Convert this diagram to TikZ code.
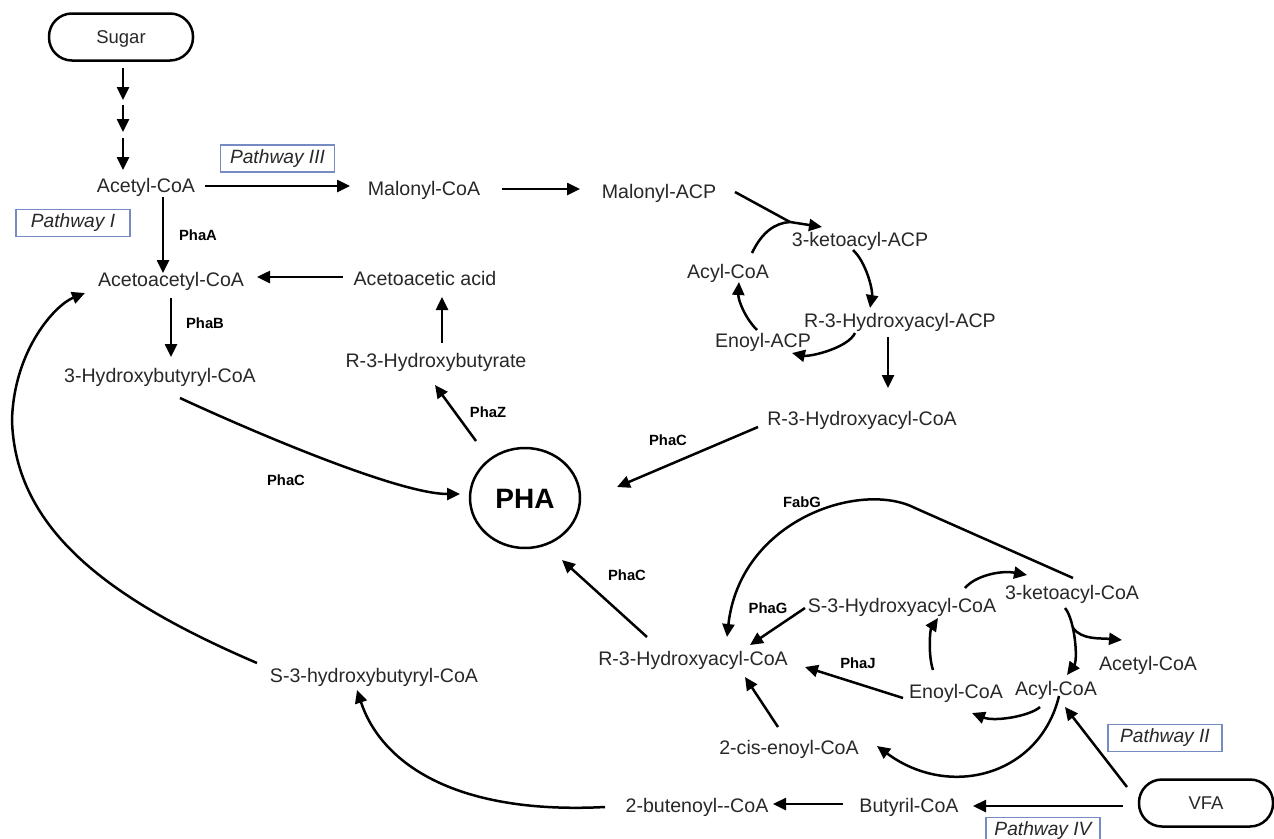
\documentclass[tikz,border=0pt]{standalone}
\usepackage{fontspec}
\setmainfont{Liberation Sans}
\usetikzlibrary{arrows.meta,shapes.geometric}
\definecolor{pwblue}{RGB}{118,138,196}
\definecolor{ink}{RGB}{40,40,40}
\begin{document}
\begin{tikzpicture}[x=1pt,y=-1pt,
 txt/.style={font=\fontsize{19.6}{22}\selectfont, text=ink, inner sep=0pt, text height=14pt, text depth=0pt},
 enz/.style={font=\bfseries\fontsize{14.8}{17}\selectfont, text=black, inner sep=0pt, text height=10.6pt, text depth=0pt},
 pw/.style={draw=pwblue, line width=1.3pt, font=\itshape\fontsize{19.2}{22}\selectfont, text=ink, minimum width=114pt, minimum height=27pt, inner sep=0pt, text height=13.6pt, text depth=4pt},
 src/.style={draw, line width=2.5pt, rounded corners=23pt, minimum height=47pt, font=\fontsize{18.5}{22}\selectfont, text=ink, text height=13pt, text depth=0pt},
 arr/.style={line width=2.5pt, -{Triangle[length=13pt,width=12pt]}},
 ln/.style={line width=2.5pt}
]
\fill[white] (0,0) rectangle (1274,838);
\useasboundingbox (0,0) rectangle (1274,838);

% ---------- nodes ----------
\node[src, minimum width=144pt] (sugar) at (121,37) {Sugar};
\node[txt] (acet) at (146,185) {Acetyl-CoA};
\node[pw] (p3) at (277.5,158.5) {Pathway III};
\node[pw] (p1) at (73,223) {Pathway I};
\node[txt] (malcoa) at (424,188) {Malonyl-CoA};
\node[txt] (malacp) at (659,191) {Malonyl-ACP};
\node[txt] (acac) at (171,279) {Acetoacetyl-CoA};
\node[txt] (aaacid) at (425,278) {Acetoacetic acid};
\node[txt] (ketoacp) at (860,239) {3-ketoacyl-ACP};
\node[txt] (acylacp) at (728,271) {Acyl-CoA};
\node[txt] (r3acp) at (900,320) {R-3-Hydroxyacyl-ACP};
\node[txt] (enoylacp) at (763,340) {Enoyl-ACP};
\node[txt] (hbcoa) at (160,375) {3-Hydroxybutyryl-CoA};
\node[txt] (r3hb) at (436,360) {R-3-Hydroxybutyrate};
\node[txt] (r3coaU) at (862,418) {R-3-Hydroxyacyl-CoA};
\node[draw, ellipse, line width=2.5pt, minimum width=110pt, minimum height=100pt, inner sep=0pt,
      font=\bfseries\fontsize{28}{32}\selectfont, text height=20pt, text depth=0pt] (pha) at (525,498) {PHA};
\node[txt] (s3hb) at (374,675) {S-3-hydroxybutyryl-CoA};
\node[txt] (s3coa) at (902,605) {S-3-Hydroxyacyl-CoA};
\node[txt] (ketocoa) at (1072,592) {3-ketoacyl-CoA};
\node[txt] (acetcoa2) at (1148,663) {Acetyl-CoA};
\node[txt] (acylcoa2) at (1056,688) {Acyl-CoA};
\node[txt] (enoylcoa) at (956,691) {Enoyl-CoA};
\node[txt] (r3coaL) at (693,658) {R-3-Hydroxyacyl-CoA};
\node[txt] (cis) at (789,747) {2-cis-enoyl-CoA};
\node[txt] (buten) at (697,805) {2-butenoyl-{}-CoA};
\node[txt] (butyril) at (909,805) {Butyril-CoA};
\node[src, minimum width=134pt] (vfa) at (1206,803) {VFA};
\node[pw] (p2) at (1165,738) {Pathway II};
\node[pw] (p4) at (1043,831) {Pathway IV};

% enzyme labels
\node[enz] (phaA) at (198,235) {PhaA};
\node[enz] (phaB) at (205,323) {PhaB};
\node[enz] (phaC1) at (286,480) {PhaC};
\node[enz] (phaZ) at (488,412) {PhaZ};
\node[enz] (phaC2) at (668,440) {PhaC};
\node[enz] (fabG) at (802,502) {FabG};
\node[enz] (phaC3) at (627,575) {PhaC};
\node[enz] (phaG) at (768,608) {PhaG};
\node[enz] (phaJ) at (858,663) {PhaJ};

% ---------- connectors ----------
\coordinate (d1) at (123,100);
\coordinate (d2) at (123,105);
\coordinate (d3) at (123,132);
\coordinate (d4) at (123,138);
\draw[arr] ([shift={(2,31)}]sugar.center) -- (d1);
\draw[arr] (d2) -- (d3);
\draw[arr] (d4) -- ([shift={(-23,-15)}]acet.center);

\draw[arr] ([shift={(59,1)}]acet.center) -- ([shift={(-74,-2)}]malcoa.center);
\draw[arr] ([shift={(78,1)}]malcoa.center) -- ([shift={(-79,-2)}]malacp.center);
\draw[arr] ([shift={(17,12)}]acet.center) -- ([shift={(-8,-6)}]acac.center);
\draw[arr] ([shift={(-82,-1)}]aaacid.center) -- ([shift={(86,-2)}]acac.center);
\draw[arr] ([shift={(0,19)}]acac.center) -- ([shift={(11,-18)}]hbcoa.center);
\draw[arr] ([shift={(6,-17)}]r3hb.center) -- ([shift={(17,19)}]aaacid.center);
\draw[arr] ([shift={(-49,-57)}]pha.center) -- ([shift={(-1,25)}]r3hb.center);
\draw[arr] ([shift={(20,23)}]hbcoa.center) .. controls (260,435) and (400,494) .. ([shift={(-65,-4)}]pha.center);
\draw[arr] ([shift={(-104,9)}]r3coaU.center) -- ([shift={(92,-11)}]pha.center);
\draw[arr] ([shift={(-12,17)}]r3acp.center) -- ([shift={(26,-30)}]r3coaU.center);

% fatty acid synthesis cycle
\coordinate (j1) at (790,222);
\draw[ln] ([shift={(76,1)}]malacp.center) -- (j1);
\draw[arr] ([shift={(24,-18)}]acylacp.center) .. controls (762,232) and (775,223) .. (j1) -- ([shift={(-38,-12)}]ketoacp.center);
\draw[arr] ([shift={(-7,11)}]ketoacp.center) .. controls (866,262) and (873,290) .. ([shift={(-30,-12)}]r3acp.center);
\draw[arr] ([shift={(-45,13)}]r3acp.center) .. controls (848,348) and (810,357) .. ([shift={(29,13)}]enoylacp.center);
\draw[arr] ([shift={(-6,-10)}]enoylacp.center) .. controls (745,318) and (738,300) .. ([shift={(11,11)}]acylacp.center);

% beta-oxidation
\draw[arr] ([shift={(1,-14)}]ketocoa.center) -- (915,508) .. controls (860,480) and (740,520) .. ([shift={(34,-21)}]r3coaL.center);
\draw[arr] ([shift={(-97,3)}]s3coa.center) -- ([shift={(57,-13)}]r3coaL.center);
\draw[arr] ([shift={(-46,-21)}]r3coaL.center) -- ([shift={(37,62)}]pha.center);
\draw[arr] ([shift={(63,-17)}]s3coa.center) .. controls (975,576) and (1000,570) .. ([shift={(-45,-17)}]ketocoa.center);
\draw[arr] ([shift={(-7,16)}]ketocoa.center) .. controls (1075,620) and (1078,660) .. ([shift={(11,-13)}]acylcoa2.center);
\draw[arr] ([shift={(1,36)}]ketocoa.center) .. controls (1082,640) and (1100,638) .. ([shift={(-26,-23)}]acetcoa2.center);
\draw[arr] ([shift={(-16,19)}]acylcoa2.center) .. controls (1030,716) and (995,722) .. ([shift={(16,22)}]enoylcoa.center);
\draw[arr] ([shift={(-23,-21)}]enoylcoa.center) .. controls (928,655) and (930,630) .. ([shift={(36,13)}]s3coa.center);
\draw[arr] ([shift={(-53,7)}]enoylcoa.center) -- ([shift={(112,9)}]r3coaL.center);
\draw[arr] ([shift={(-11,-20)}]cis.center) -- ([shift={(52,19)}]r3coaL.center);
\draw[arr] ([shift={(3,8)}]acylcoa2.center) .. controls (1040,775) and (950,800) .. ([shift={(88,-1)}]cis.center);

% VFA branch
\draw[arr] ([shift={(-79,-16)}]vfa.center) -- ([shift={(9,19)}]acylcoa2.center);
\draw[arr] ([shift={(-83,3)}]vfa.center) -- ([shift={(64,1)}]butyril.center);
\draw[arr] ([shift={(-66,-1)}]butyril.center) -- ([shift={(76,-1)}]buten.center);
\draw[arr] ([shift={(-92,2)}]buten.center) .. controls (450,815) and (380,760) .. ([shift={(-17,15)}]s3hb.center);

% big return arc
\draw[arr] ([shift={(-117,-12)}]s3hb.center) .. controls (110,600) and (15,530) .. (12,420)
   .. controls (14,350) and (55,305) .. ([shift={(-86,14)}]acac.center);
\end{tikzpicture}
\end{document}
